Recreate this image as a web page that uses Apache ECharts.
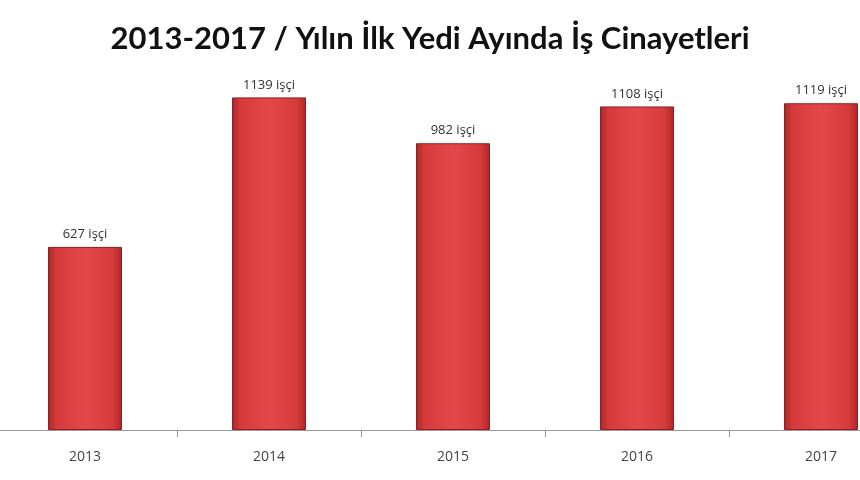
<html lang="tr">
<head>
	<meta charset="UTF-8">
	<script src="https://cdn.jsdelivr.net/npm/echarts@6/dist/echarts.min.js"></script>
	<title>İş Cinayetleri</title>
</head>
<body style="margin:0;background:#fff">
<div id="pic" style="width:860px;height:480px"></div>
<script>
	"use strict";

	const years=["2013","2014","2015","2016","2017"];
	const deaths=[627,1139,982,1108,1119];
	const unit="işçi";

	let pic=echarts.init(document.getElementById("pic"));
	let red=new echarts.graphic.LinearGradient(0,0,1,0,[
		{offset:0,color:"#a8282a"},
		{offset:0.12,color:"#d63a3b"},
		{offset:0.5,color:"#e4484a"},
		{offset:0.88,color:"#d63a3b"},
		{offset:1,color:"#a8282a"}
	]);
	let option=
		{
			animation:false,
			title:{
				text:"2013-2017 / Yılın İlk Yedi Ayında İş Cinayetleri",
				left:"center",
				top:18,
				textStyle:{fontFamily:"Lato",fontWeight:"bold",fontSize:31,color:"#111"}
			},
			grid:{left:-7,right:-53,top:79.6,bottom:50,outerBoundsMode:"none"},
			xAxis:{
				type:"category",
				data:years,
				axisLine:{lineStyle:{color:"#999",width:1}},
				axisTick:{show:true,length:7,lineStyle:{color:"#999"}},
				axisLabel:{margin:20,fontSize:14,color:"#444",fontFamily:"Open Sans"}
			},
			yAxis:{type:"value",min:0,max:1200,show:false,splitLine:{show:false}},
			series:[{
				type:"bar",
				data:deaths,
				barWidth:74,
				itemStyle:{color:red,borderColor:"#8e1e20",borderWidth:1},
				label:{
					show:true,
					position:"top",
					distance:6,
					fontSize:13,
					color:"#333",
					fontFamily:"Open Sans",
					formatter:p=>p.value+" "+unit
				}
			}]
		};
	pic.setOption(option);
</script>
</body>
</html>
